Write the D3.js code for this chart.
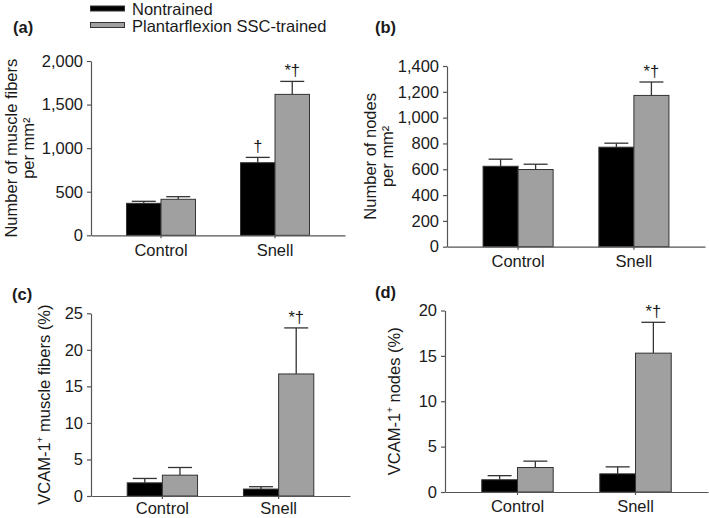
<!DOCTYPE html>
<html>
<head>
<meta charset="utf-8">
<script src="https://cdn.jsdelivr.net/npm/d3@7"></script>
<style>
  html, body { margin: 0; padding: 0; background: #fff; }
  svg { display: block; font-family: "Liberation Sans", Arial, sans-serif; }
</style>
</head>
<body>
<svg id="chart" width="709" height="518"></svg>
<script>
// ---------- data ----------
const categories = ["Control", "Snell"];
const seriesNames = ["Nontrained", "Plantarflexion SSC-trained"];

// (a) Number of muscle fibers per mm²
const fibersNontrained = [367, 833];
const fibersNontrainedErr = [23, 61];
const fibersTrained = [413, 1617];
const fibersTrainedErr = [30, 149];
const fibersSigNontrained = ["", "†"];
const fibersSigTrained = ["", "*†"];
const fibersTicks = [0, 500, 1000, 1500, 2000];

// (b) Number of nodes per mm²
const nodesNontrained = [623, 771];
const nodesNontrainedErr = [55, 31];
const nodesTrained = [598, 1172];
const nodesTrainedErr = [41, 104];
const nodesSigNontrained = ["", ""];
const nodesSigTrained = ["", "*†"];
const nodesTicks = [0, 200, 400, 600, 800, 1000, 1200, 1400];

// (c) VCAM-1+ muscle fibers (%)
const vcamFibersNontrained = [1.8, 0.95];
const vcamFibersNontrainedErr = [0.6, 0.32];
const vcamFibersTrained = [2.85, 16.7];
const vcamFibersTrainedErr = [1.05, 6.3];
const vcamFibersSigNontrained = ["", ""];
const vcamFibersSigTrained = ["", "*†"];
const vcamFibersTicks = [0, 5, 10, 15, 20, 25];

// (d) VCAM-1+ nodes (%)
const vcamNodesNontrained = [1.35, 2.0];
const vcamNodesNontrainedErr = [0.45, 0.77];
const vcamNodesTrained = [2.7, 15.3];
const vcamNodesTrainedErr = [0.7, 3.4];
const vcamNodesSigNontrained = ["", ""];
const vcamNodesSigTrained = ["", "*†"];
const vcamNodesTicks = [0, 5, 10, 15, 20];

// ---------- styles ----------
const fillColors = ["#000000", "#a0a0a0"];
const strokeColor = "#333333";
const axisColor = "#555555";
const textColor = "#1a1a1a";
const fontSize = 16.5;

const svg = d3.select("#chart");

const panels = [
  { label: "(a)", labelPos: [13, 33],
    titleLines: [["Number of muscle fibers"], ["per mm²"]], titleX: [16.5, 34],
    means: [fibersNontrained, fibersTrained], errs: [fibersNontrainedErr, fibersTrainedErr],
    sig: [fibersSigNontrained, fibersSigTrained], ticks: fibersTicks, fmt: d3.format(","),
    x0: 91, x1: 345, yTop: 61, yBot: 235.3, xPad: 6 },
  { label: "(b)", labelPos: [375, 33],
    titleLines: [["Number of nodes"], ["per mm²"]], titleX: [375.5, 393],
    means: [nodesNontrained, nodesTrained], errs: [nodesNontrainedErr, nodesTrainedErr],
    sig: [nodesSigNontrained, nodesSigTrained], ticks: nodesTicks, fmt: d3.format(","),
    x0: 447, x1: 705, yTop: 66, yBot: 246.7, xPad: 6 },
  { label: "(c)", labelPos: [12, 300],
    titleLines: [["VCAM-1", "+", " muscle fibers (%)"]], titleX: [50],
    means: [vcamFibersNontrained, vcamFibersTrained], errs: [vcamFibersNontrainedErr, vcamFibersTrainedErr],
    sig: [vcamFibersSigNontrained, vcamFibersSigTrained], ticks: vcamFibersTicks, fmt: d3.format("d"),
    x0: 91, x1: 350, yTop: 313.3, yBot: 496, xPad: 3 },
  { label: "(d)", labelPos: [375, 298],
    titleLines: [["VCAM-1", "+", " nodes (%)"]], titleX: [400],
    means: [vcamNodesNontrained, vcamNodesTrained], errs: [vcamNodesNontrainedErr, vcamNodesTrainedErr],
    sig: [vcamNodesSigNontrained, vcamNodesSigTrained], ticks: vcamNodesTicks, fmt: d3.format("d"),
    x0: 445, x1: 708, yTop: 310.5, yBot: 492, xPad: 5 }
];

panels.forEach(p => {
  const g = svg.append("g");
  const x = d3.scaleBand().domain(categories).range([p.x0, p.x1])
    .paddingInner(0.395).paddingOuter(0.3115);
  const xs = d3.scaleBand().domain(d3.range(seriesNames.length)).range([0, x.bandwidth()]);
  const y = d3.scaleLinear().domain([p.ticks[0], p.ticks[p.ticks.length - 1]]).range([p.yBot, p.yTop]);

  // bars
  seriesNames.forEach((s, si) => {
    categories.forEach((c, ci) => {
      const v = p.means[si][ci];
      const e = p.errs[si][ci];
      const bx = x(c) + xs(si);
      const bw = xs.bandwidth();
      const cx = bx + bw / 2;
      // error bar (upper only)
      g.append("line").attr("x1", cx).attr("x2", cx)
        .attr("y1", y(v)).attr("y2", y(v + e))
        .attr("stroke", strokeColor).attr("stroke-width", 1.3);
      g.append("line").attr("x1", cx - 12).attr("x2", cx + 12)
        .attr("y1", y(v + e)).attr("y2", y(v + e))
        .attr("stroke", strokeColor).attr("stroke-width", 1.3);
      g.append("rect").attr("x", bx).attr("y", y(v))
        .attr("width", bw).attr("height", y(0) - y(v))
        .attr("fill", fillColors[si]).attr("stroke", strokeColor).attr("stroke-width", 1);
      const sig = p.sig[si][ci];
      if (sig) {
        g.append("text").attr("x", cx).attr("y", y(v + e) - 5)
          .attr("text-anchor", "middle").attr("font-size", fontSize)
          .attr("fill", textColor).text(sig);
      }
    });
  });

  // axes
  const yAxis = d3.axisLeft(y).tickValues(p.ticks).tickFormat(p.fmt)
    .tickSize(4).tickSizeOuter(0).tickPadding(4);
  const ya = g.append("g").attr("transform", `translate(${p.x0},0)`).call(yAxis);
  const xAxis = d3.axisBottom(x).tickSize(3).tickSizeOuter(0).tickPadding(p.xPad);
  const xa = g.append("g").attr("transform", `translate(0,${p.yBot})`).call(xAxis);
  [ya, xa].forEach(a => {
    a.select(".domain").attr("stroke", axisColor).attr("stroke-width", 1.2);
    a.selectAll(".tick line").attr("stroke", axisColor).attr("stroke-width", 1.2);
    a.selectAll(".tick text").attr("fill", textColor).attr("font-size", fontSize)
      .attr("font-family", "Liberation Sans, Arial, sans-serif");
  });

  // panel label
  svg.append("text").attr("x", p.labelPos[0]).attr("y", p.labelPos[1])
    .attr("font-size", fontSize).attr("font-weight", "bold").attr("fill", textColor)
    .text(p.label);

  // y title
  const cy = (p.yTop + p.yBot) / 2;
  p.titleLines.forEach((parts, li) => {
    const t = svg.append("text")
      .attr("transform", `translate(${p.titleX[li]},${cy}) rotate(-90)`)
      .attr("text-anchor", "middle").attr("font-size", fontSize).attr("fill", textColor);
    if (parts.length === 1) {
      t.text(parts[0]);
    } else {
      t.append("tspan").text(parts[0]);
      t.append("tspan").attr("font-size", fontSize * 0.6).attr("dy", -7).text(parts[1]);
      t.append("tspan").attr("dy", 7).text(parts[2]);
    }
  });
});

// legend
const legend = svg.append("g");
seriesNames.forEach((s, i) => {
  const ly = 8.5 + i * 16.5;
  legend.append("rect").attr("x", 90.5).attr("y", ly - 2.5).attr("width", 34).attr("height", 5)
    .attr("fill", fillColors[i]).attr("stroke", strokeColor).attr("stroke-width", 1);
  legend.append("text").attr("x", 132).attr("y", ly + 6.5)
    .attr("font-size", fontSize).attr("fill", textColor).text(s);
});
</script>
</body>
</html>
